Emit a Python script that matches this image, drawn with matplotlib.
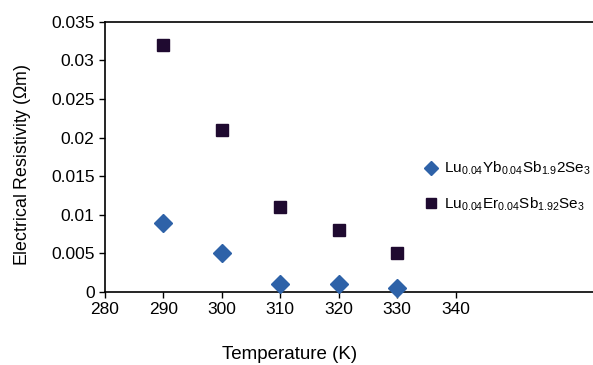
import matplotlib
matplotlib.use("Agg")
import matplotlib.pyplot as plt

plt.rcParams["font.family"] = ["Liberation Sans", "DejaVu Sans"]
plt.rcParams["mathtext.fontset"] = "custom"
plt.rcParams["mathtext.rm"] = "Liberation Sans"
plt.rcParams["mathtext.it"] = "Liberation Sans"

temps = [290, 300, 310, 320, 330]
rho_yb = [0.009, 0.005, 0.001, 0.001, 0.0005]
rho_er = [0.032, 0.021, 0.011, 0.008, 0.005]
label_yb = r"Lu$_{\mathrm{0.04}}$Yb$_{\mathrm{0.04}}$Sb$_{\mathrm{1.9}}$2Se$_{\mathrm{3}}$"
label_er = r"Lu$_{\mathrm{0.04}}$Er$_{\mathrm{0.04}}$Sb$_{\mathrm{1.92}}$Se$_{\mathrm{3}}$"
xticks = [280, 290, 300, 310, 320, 330, 340]
yticks = [0, 0.005, 0.01, 0.015, 0.02, 0.025, 0.03, 0.035]
ytick_labels = ["0", "0.005", "0.01", "0.015", "0.02", "0.025", "0.03", "0.035"]

fig = plt.figure(figsize=(5.93, 3.65), dpi=100)
ax = fig.add_axes([0.177, 0.2, 0.823, 0.74])

ax.plot(temps, rho_yb, linestyle="none", marker="D", ms=9,
        color="#2e62a8", label=label_yb, clip_on=False, zorder=5)
ax.plot(temps, rho_er, linestyle="none", marker="s", ms=8.5,
        color="#1f0a30", label=label_er, clip_on=False, zorder=5)

ax.set_xlim(280, 363.5)
ax.set_ylim(0, 0.035)
ax.set_xticks(xticks)
ax.set_yticks(yticks)
ax.set_yticklabels(ytick_labels)
ax.tick_params(axis="both", direction="out", length=4, width=1,
               labelsize=12.5, colors="black")
for side in ["left", "bottom", "top"]:
    ax.spines[side].set_linewidth(1.2)
ax.spines["right"].set_visible(False)

ax.set_xlabel("Temperature (K)", fontsize=13.5)
ax.xaxis.set_label_coords(0.379, -0.2)
ax.set_ylabel(r"Electrical Resistivity ($\Omega$m)", fontsize=12.8)
ax.yaxis.set_label_coords(-0.147, 0.47)

ax.legend(loc="center left", bbox_to_anchor=(0.712, 0.489),
          bbox_transform=fig.transFigure, frameon=False, markerscale=0.8,
          fontsize=11, handletextpad=0.35, labelspacing=1.2,
          handlelength=1.1, borderaxespad=0, borderpad=0)

fig.savefig("out.png", dpi=100)
